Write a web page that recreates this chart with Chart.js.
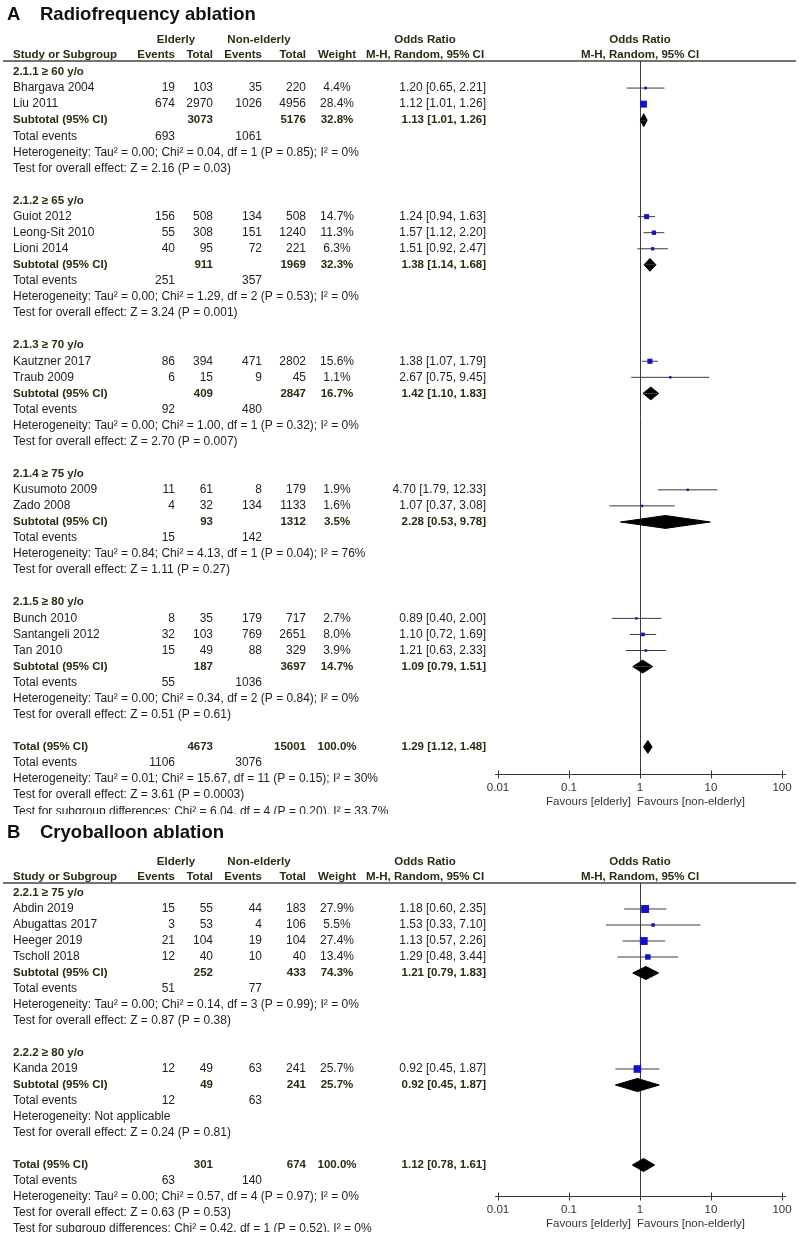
<!DOCTYPE html>
<html>
<head>
<meta charset="utf-8">
<script src="https://cdn.jsdelivr.net/npm/chart.js@4.4.1/dist/chart.umd.min.js"></script>
<style>
  body { margin: 0; background: #fff; }
  canvas { display: block; }
</style>
</head>
<body>
<canvas id="rfChart" width="799" height="814"></canvas>
<canvas id="cryoChart" width="799" height="418"></canvas>
<script>
// axis
const axisTicks = [0.01, 0.1, 1, 10, 100];
const axisTickLabels = ['0.01', '0.1', '1', '10', '100'];
const favourLabels = ['Favours [elderly]', 'Favours [non-elderly]'];

// ---- A: radiofrequency ablation ----
const rfGroups = ['2.1.1 \u2265 60 y/o', '2.1.2 \u2265 65 y/o', '2.1.3 \u2265 70 y/o', '2.1.4 \u2265 75 y/o', '2.1.5 \u2265 80 y/o'];
const rfStudies = ['Bhargava 2004', 'Liu 2011', 'Guiot 2012', 'Leong-Sit 2010', 'Lioni 2014', 'Kautzner 2017',
  'Traub 2009', 'Kusumoto 2009', 'Zado 2008', 'Bunch 2010', 'Santangeli 2012', 'Tan 2010'];
const rfGroupOf = [0, 0, 1, 1, 1, 2, 2, 3, 3, 4, 4, 4];
const rfElderlyEvents = [19, 674, 156, 55, 40, 86, 6, 11, 4, 8, 32, 15];
const rfElderlyTotal = [103, 2970, 508, 308, 95, 394, 15, 61, 32, 35, 103, 49];
const rfNonEvents = [35, 1026, 134, 151, 72, 471, 9, 8, 134, 179, 769, 88];
const rfNonTotal = [220, 4956, 508, 1240, 221, 2802, 45, 179, 1133, 717, 2651, 329];
const rfWeight = [4.4, 28.4, 14.7, 11.3, 6.3, 15.6, 1.1, 1.9, 1.6, 2.7, 8.0, 3.9];
const rfOR = [1.20, 1.12, 1.24, 1.57, 1.51, 1.38, 2.67, 4.70, 1.07, 0.89, 1.10, 1.21];
const rfLow = [0.65, 1.01, 0.94, 1.12, 0.92, 1.07, 0.75, 1.79, 0.37, 0.40, 0.72, 0.63];
const rfHigh = [2.21, 1.26, 1.63, 2.20, 2.47, 1.79, 9.45, 12.33, 3.08, 2.00, 1.69, 2.33];

const rfSubElderlyTotal = [3073, 911, 409, 93, 187];
const rfSubNonTotal = [5176, 1969, 2847, 1312, 3697];
const rfSubWeight = [32.8, 32.3, 16.7, 3.5, 14.7];
const rfSubOR = [1.13, 1.38, 1.42, 2.28, 1.09];
const rfSubLow = [1.01, 1.14, 1.10, 0.53, 0.79];
const rfSubHigh = [1.26, 1.68, 1.83, 9.78, 1.51];
const rfSubElderlyEvents = [693, 251, 92, 15, 55];
const rfSubNonEvents = [1061, 357, 480, 142, 1036];
const rfSubHet = [
  'Heterogeneity: Tau\u00b2 = 0.00; Chi\u00b2 = 0.04, df = 1 (P = 0.85); I\u00b2 = 0%',
  'Heterogeneity: Tau\u00b2 = 0.00; Chi\u00b2 = 1.29, df = 2 (P = 0.53); I\u00b2 = 0%',
  'Heterogeneity: Tau\u00b2 = 0.00; Chi\u00b2 = 1.00, df = 1 (P = 0.32); I\u00b2 = 0%',
  'Heterogeneity: Tau\u00b2 = 0.84; Chi\u00b2 = 4.13, df = 1 (P = 0.04); I\u00b2 = 76%',
  'Heterogeneity: Tau\u00b2 = 0.00; Chi\u00b2 = 0.34, df = 2 (P = 0.84); I\u00b2 = 0%'];
const rfSubTest = [
  'Test for overall effect: Z = 2.16 (P = 0.03)',
  'Test for overall effect: Z = 3.24 (P = 0.001)',
  'Test for overall effect: Z = 2.70 (P = 0.007)',
  'Test for overall effect: Z = 1.11 (P = 0.27)',
  'Test for overall effect: Z = 0.51 (P = 0.61)'];
const rfTotalCounts = [4673, 15001];
const rfTotalEvents = [1106, 3076];
const rfTotalEffect = [1.29, 1.12, 1.48];
const rfTotalNotes = [
  'Heterogeneity: Tau\u00b2 = 0.01; Chi\u00b2 = 15.67, df = 11 (P = 0.15); I\u00b2 = 30%',
  'Test for overall effect: Z = 3.61 (P = 0.0003)',
  'Test for subgroup differences: Chi\u00b2 = 6.04, df = 4 (P = 0.20), I\u00b2 = 33.7%'];

// ---- B: cryoballoon ablation ----
const cbGroups = ['2.2.1 \u2265 75 y/o', '2.2.2 \u2265 80 y/o'];
const cbStudies = ['Abdin 2019', 'Abugattas 2017', 'Heeger 2019', 'Tscholl 2018', 'Kanda 2019'];
const cbGroupOf = [0, 0, 0, 0, 1];
const cbElderlyEvents = [15, 3, 21, 12, 12];
const cbElderlyTotal = [55, 53, 104, 40, 49];
const cbNonEvents = [44, 4, 19, 10, 63];
const cbNonTotal = [183, 106, 104, 40, 241];
const cbWeight = [27.9, 5.5, 27.4, 13.4, 25.7];
const cbOR = [1.18, 1.53, 1.13, 1.29, 0.92];
const cbLow = [0.60, 0.33, 0.57, 0.48, 0.45];
const cbHigh = [2.35, 7.10, 2.26, 3.44, 1.87];

const cbSubElderlyTotal = [252, 49];
const cbSubNonTotal = [433, 241];
const cbSubWeight = [74.3, 25.7];
const cbSubOR = [1.21, 0.92];
const cbSubLow = [0.79, 0.45];
const cbSubHigh = [1.83, 1.87];
const cbSubElderlyEvents = [51, 12];
const cbSubNonEvents = [77, 63];
const cbSubHet = [
  'Heterogeneity: Tau\u00b2 = 0.00; Chi\u00b2 = 0.14, df = 3 (P = 0.99); I\u00b2 = 0%',
  'Heterogeneity: Not applicable'];
const cbSubTest = [
  'Test for overall effect: Z = 0.87 (P = 0.38)',
  'Test for overall effect: Z = 0.24 (P = 0.81)'];
const cbTotalCounts = [301, 674];
const cbTotalEvents = [63, 140];
const cbTotalEffect = [1.12, 0.78, 1.61];
const cbTotalNotes = [
  'Heterogeneity: Tau\u00b2 = 0.00; Chi\u00b2 = 0.57, df = 4 (P = 0.97); I\u00b2 = 0%',
  'Test for overall effect: Z = 0.63 (P = 0.53)',
  'Test for subgroup differences: Chi\u00b2 = 0.42, df = 1 (P = 0.52), I\u00b2 = 0%'];

const FONT = '"Liberation Sans", Arial, Helvetica, sans-serif';
const BOLD_COL = '#2e2a14';
const TEXT_COL = '#1e1e1e';
// column anchors (px)
const COL = { label: 13, ev1: 175, tot1: 213, ev2: 262, tot2: 306, weight: 337, or: 486, orHead: 425, elderly: 176, non: 259 };

const fmtCI = (m, lo, hi) => m.toFixed(2) + ' [' + lo.toFixed(2) + ', ' + hi.toFixed(2) + ']';

function makeRows(p) {
  const rows = [];
  let r = 0;
  p.groups.forEach((g, gi) => {
    rows.push({ kind: 'group', y: r++, gi });
    p.studies.forEach((s, i) => { if (p.groupOf[i] === gi) rows.push({ kind: 'study', y: r++, i }); });
    rows.push({ kind: 'sub', y: r++, gi });
    rows.push({ kind: 'events', y: r++, gi });
    rows.push({ kind: 'note', y: r++, text: p.subHet[gi] });
    rows.push({ kind: 'note', y: r++, text: p.subTest[gi] });
    r++;
  });
  rows.push({ kind: 'total', y: r++ });
  rows.push({ kind: 'totalEvents', y: r++ });
  p.totalNotes.forEach(t => rows.push({ kind: 'note', y: r++, text: t }));
  return rows;
}

function makeDatasets(p, rows, L) {
  const ds = [];
  const squares = { type: 'scatter', data: [], pointStyle: 'rect', pointRadius: [], backgroundColor: '#1212c8', borderWidth: 0, order: 0 };
  rows.forEach(row => {
    if (row.kind === 'study') {
      const i = row.i;
      ds.push({ type: 'scatter', showLine: true, data: [{ x: p.low[i], y: row.y }, { x: p.high[i], y: row.y }],
        borderColor: '#3a3a3a', borderWidth: 1, pointRadius: 0, order: 2 });
      squares.data.push({ x: p.or[i], y: row.y });
      squares.pointRadius.push(Math.max(2.4, L.sq * Math.sqrt(p.weight[i])) / Math.SQRT2);
    }
    if (row.kind === 'sub' || row.kind === 'total') {
      const e = row.kind === 'sub'
        ? [p.subOR[row.gi], p.subLow[row.gi], p.subHigh[row.gi]]
        : p.totalEffect;
      [-1, 1].forEach(s => ds.push({ type: 'scatter', showLine: true,
        data: [{ x: e[1], y: row.y }, { x: e[0], y: row.y + s * L.dh }, { x: e[2], y: row.y }],
        fill: { value: row.y }, backgroundColor: '#000', borderColor: '#000', borderWidth: 1, pointRadius: 0, order: 1 }));
    }
  });
  ds.push(squares);
  return ds;
}

function forestPlugin(p, rows, L) {
  return {
    id: 'forest',
    beforeDatasetsDraw(chart) {
      const ctx = chart.ctx, a = chart.chartArea, xs = chart.scales.x;
      const x1 = Math.round(xs.getPixelForValue(1)) + 0.5;
      ctx.save();
      ctx.strokeStyle = '#3a3a3a';
      ctx.lineWidth = 1;
      ctx.beginPath();
      ctx.moveTo(x1, a.top);
      ctx.lineTo(x1, a.bottom);
      ctx.stroke();
      ctx.restore();
    },
    afterDraw(chart) {
      const ctx = chart.ctx, a = chart.chartArea, xs = chart.scales.x, ys = chart.scales.y;
      const reg = '12px ' + FONT, bold = 'bold 11.5px ' + FONT;
      ctx.save();
      ctx.textBaseline = 'middle';
      const t = (s, x, y, align, font, col) => {
        ctx.font = font; ctx.fillStyle = col; ctx.textAlign = align; ctx.fillText(String(s), x, y);
      };
      // title
      t(p.letter, 7, L.titleY, 'left', 'bold 18.5px ' + FONT, '#111');
      t(p.title, 40, L.titleY, 'left', 'bold 18.5px ' + FONT, '#111');
      // header
      const xc = xs.getPixelForValue(1);
      t('Elderly', COL.elderly, L.head1Y, 'center', bold, BOLD_COL);
      t('Non-elderly', COL.non, L.head1Y, 'center', bold, BOLD_COL);
      t('Odds Ratio', COL.orHead, L.head1Y, 'center', bold, BOLD_COL);
      t('Odds Ratio', xc, L.head1Y, 'center', bold, BOLD_COL);
      t('Study or Subgroup', COL.label, L.head2Y, 'left', bold, BOLD_COL);
      t('Events', COL.ev1, L.head2Y, 'right', bold, BOLD_COL);
      t('Total', COL.tot1, L.head2Y, 'right', bold, BOLD_COL);
      t('Events', COL.ev2, L.head2Y, 'right', bold, BOLD_COL);
      t('Total', COL.tot2, L.head2Y, 'right', bold, BOLD_COL);
      t('Weight', COL.weight, L.head2Y, 'center', bold, BOLD_COL);
      t('M-H, Random, 95% CI', COL.orHead, L.head2Y, 'center', bold, BOLD_COL);
      t('M-H, Random, 95% CI', xc, L.head2Y, 'center', bold, BOLD_COL);
      ctx.strokeStyle = '#444';
      ctx.lineWidth = 1.5;
      ctx.beginPath();
      ctx.moveTo(3, a.top);
      ctx.lineTo(796, a.top);
      ctx.stroke();

      rows.forEach(row => {
        const y = ys.getPixelForValue(row.y);
        if (row.kind === 'group') {
          t(p.groups[row.gi], COL.label, y, 'left', bold, BOLD_COL);
        } else if (row.kind === 'study') {
          const i = row.i;
          t(p.studies[i], COL.label, y, 'left', reg, TEXT_COL);
          t(p.ee[i], COL.ev1, y, 'right', reg, TEXT_COL);
          t(p.et[i], COL.tot1, y, 'right', reg, TEXT_COL);
          t(p.ne[i], COL.ev2, y, 'right', reg, TEXT_COL);
          t(p.nt[i], COL.tot2, y, 'right', reg, TEXT_COL);
          t(p.weight[i].toFixed(1) + '%', COL.weight, y, 'center', reg, TEXT_COL);
          t(fmtCI(p.or[i], p.low[i], p.high[i]), COL.or, y, 'right', reg, TEXT_COL);
        } else if (row.kind === 'sub') {
          const g = row.gi;
          t('Subtotal (95% CI)', COL.label, y, 'left', bold, BOLD_COL);
          t(p.subEt[g], COL.tot1, y, 'right', bold, BOLD_COL);
          t(p.subNt[g], COL.tot2, y, 'right', bold, BOLD_COL);
          t(p.subWeight[g].toFixed(1) + '%', COL.weight, y, 'center', bold, BOLD_COL);
          t(fmtCI(p.subOR[g], p.subLow[g], p.subHigh[g]), COL.or, y, 'right', bold, BOLD_COL);
        } else if (row.kind === 'events') {
          t('Total events', COL.label, y, 'left', reg, TEXT_COL);
          t(p.subEe[row.gi], COL.ev1, y, 'right', reg, TEXT_COL);
          t(p.subNe[row.gi], COL.ev2, y, 'right', reg, TEXT_COL);
        } else if (row.kind === 'note') {
          t(row.text, COL.label, y, 'left', reg, TEXT_COL);
        } else if (row.kind === 'total') {
          t('Total (95% CI)', COL.label, y, 'left', bold, BOLD_COL);
          t(p.totalCounts[0], COL.tot1, y, 'right', bold, BOLD_COL);
          t(p.totalCounts[1], COL.tot2, y, 'right', bold, BOLD_COL);
          t('100.0%', COL.weight, y, 'center', bold, BOLD_COL);
          t(fmtCI(p.totalEffect[0], p.totalEffect[1], p.totalEffect[2]), COL.or, y, 'right', bold, BOLD_COL);
        } else if (row.kind === 'totalEvents') {
          t('Total events', COL.label, y, 'left', reg, TEXT_COL);
          t(p.totalEvents[0], COL.ev1, y, 'right', reg, TEXT_COL);
          t(p.totalEvents[1], COL.ev2, y, 'right', reg, TEXT_COL);
        }
      });

      // x axis
      const by = Math.round(a.bottom) + 0.5;
      const x0 = xs.getPixelForValue(axisTicks[0]);
      const xn = xs.getPixelForValue(axisTicks[axisTicks.length - 1]);
      ctx.strokeStyle = '#333';
      ctx.lineWidth = 1;
      ctx.beginPath();
      ctx.moveTo(x0 - 3, by);
      ctx.lineTo(xn + 4, by);
      axisTicks.forEach(v => {
        const x = Math.round(xs.getPixelForValue(v)) + 0.5;
        ctx.moveTo(x, by - 4);
        ctx.lineTo(x, by + 4);
      });
      ctx.stroke();
      axisTicks.forEach((v, k) => t(axisTickLabels[k], xs.getPixelForValue(v), by + 13, 'center', '11.5px ' + FONT, '#333'));
      t(favourLabels[0], xc - 9, by + 27, 'right', '11.5px ' + FONT, '#333');
      t(favourLabels[1], xc - 3, by + 27, 'left', '11.5px ' + FONT, '#333');
      ctx.restore();
    }
  };
}

function drawPanel(canvasId, p, L) {
  const rows = makeRows(p);
  new Chart(document.getElementById(canvasId), {
    type: 'scatter',
    data: { datasets: makeDatasets(p, rows, L) },
    options: {
      responsive: false,
      animation: false,
      events: [],
      layout: { padding: { left: 498, right: 17, top: L.lineY, bottom: L.height - L.axisY } },
      plugins: { legend: { display: false }, tooltip: { enabled: false } },
      scales: {
        x: { type: 'logarithmic', min: axisTicks[0], max: axisTicks[axisTicks.length - 1], display: false },
        y: { type: 'linear', reverse: true, display: false,
          min: (L.lineY - L.row0) / L.rowH, max: (L.axisY - L.row0) / L.rowH }
      }
    },
    plugins: [forestPlugin(p, rows, L)]
  });
}

drawPanel('rfChart', {
  letter: 'A', title: 'Radiofrequency ablation',
  groups: rfGroups, studies: rfStudies, groupOf: rfGroupOf,
  ee: rfElderlyEvents, et: rfElderlyTotal, ne: rfNonEvents, nt: rfNonTotal,
  weight: rfWeight, or: rfOR, low: rfLow, high: rfHigh,
  subEt: rfSubElderlyTotal, subNt: rfSubNonTotal, subWeight: rfSubWeight,
  subOR: rfSubOR, subLow: rfSubLow, subHigh: rfSubHigh,
  subEe: rfSubElderlyEvents, subNe: rfSubNonEvents, subHet: rfSubHet, subTest: rfSubTest,
  totalCounts: rfTotalCounts, totalEvents: rfTotalEvents, totalEffect: rfTotalEffect, totalNotes: rfTotalNotes
}, { height: 814, titleY: 15, head1Y: 40, head2Y: 55, lineY: 61, row0: 72, rowH: 16.07, axisY: 774, dh: 0.4, sq: 1.3 });

drawPanel('cryoChart', {
  letter: 'B', title: 'Cryoballoon ablation',
  groups: cbGroups, studies: cbStudies, groupOf: cbGroupOf,
  ee: cbElderlyEvents, et: cbElderlyTotal, ne: cbNonEvents, nt: cbNonTotal,
  weight: cbWeight, or: cbOR, low: cbLow, high: cbHigh,
  subEt: cbSubElderlyTotal, subNt: cbSubNonTotal, subWeight: cbSubWeight,
  subOR: cbSubOR, subLow: cbSubLow, subHigh: cbSubHigh,
  subEe: cbSubElderlyEvents, subNe: cbSubNonEvents, subHet: cbSubHet, subTest: cbSubTest,
  totalCounts: cbTotalCounts, totalEvents: cbTotalEvents, totalEffect: cbTotalEffect, totalNotes: cbTotalNotes
}, { height: 418, titleY: 19, head1Y: 48, head2Y: 63, lineY: 69, row0: 79, rowH: 16.0, axisY: 382, dh: 0.41, sq: 1.5 });
</script>
</body>
</html>
